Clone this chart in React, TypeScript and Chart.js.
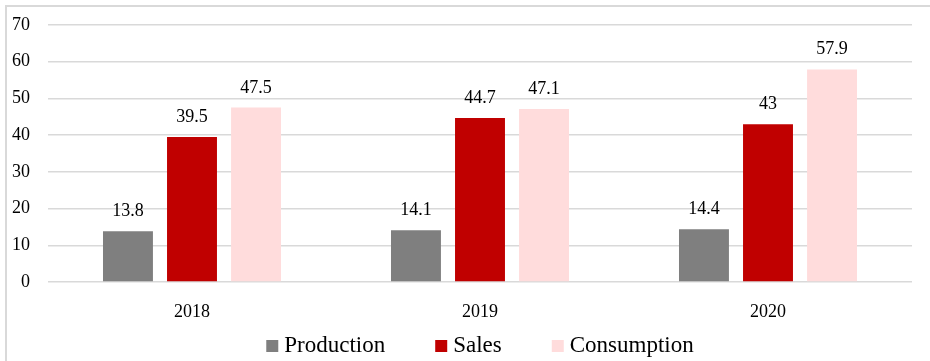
import React, { useEffect, useRef } from 'react';
import { Chart, registerables } from 'chart.js';

Chart.register(...registerables);

const categories = ['2018', '2019', '2020'];
const seriesNames = ['Production', 'Sales', 'Consumption'];
const production = [13.8, 14.1, 14.4];
const sales = [39.5, 44.7, 43];
const consumption = [47.5, 47.1, 57.9];
const seriesColors = ['#7f7f7f', '#c00000', '#ffdcdc'];
const yMin = 0;
const yMax = 70;
const yStep = 10;

const FONT = '"Liberation Serif", "Times New Roman", serif';

const valueLabels = {
  id: 'valueLabels',
  afterDatasetsDraw(chart: any) {
    const ctx = chart.ctx;
    ctx.save();
    ctx.font = `18px ${FONT}`;
    ctx.fillStyle = '#000';
    ctx.textAlign = 'center';
    ctx.textBaseline = 'alphabetic';
    chart.data.datasets.forEach((ds: any, i: number) => {
      const meta = chart.getDatasetMeta(i);
      meta.data.forEach((bar: any, j: number) => {
        ctx.fillText(String(ds.data[j]), bar.x, bar.y - 15);
      });
    });
    ctx.restore();
  },
};

const bottomLegend = {
  id: 'bottomLegend',
  afterDraw(chart: any) {
    const ctx = chart.ctx;
    ctx.save();
    ctx.font = `23px ${FONT}`;
    const box = 12;
    const gapText = 6;
    const gapItem = 50;
    const items = chart.data.datasets.map((ds: any) => ({
      label: ds.label,
      color: ds.backgroundColor,
      w: ctx.measureText(ds.label).width,
    }));
    const total =
      items.reduce((s: number, it: any) => s + box + gapText + it.w, 0) + gapItem * (items.length - 1);
    let x = (chart.chartArea.left + chart.chartArea.right) / 2 - total / 2;
    const baseline = chart.height - 9;
    ctx.textBaseline = 'alphabetic';
    ctx.textAlign = 'left';
    items.forEach((it: any) => {
      ctx.fillStyle = it.color;
      ctx.fillRect(x, baseline - box, box, box);
      ctx.fillStyle = '#000';
      ctx.fillText(it.label, x + box + gapText, baseline);
      x += box + gapText + it.w + gapItem;
    });
    ctx.restore();
  },
};

export default function App() {
  const ref = useRef<HTMLCanvasElement>(null);
  useEffect(() => {
    document.body.style.margin = '0';
    const data = [production, sales, consumption];
    const chart = new Chart(ref.current as HTMLCanvasElement, {
      type: 'bar',
      data: {
        labels: categories,
        datasets: seriesNames.map((name, i) => ({
          label: name,
          data: data[i],
          backgroundColor: seriesColors[i],
          borderWidth: 0,
          categoryPercentage: 0.667,
          barPercentage: 0.78,
        })),
      },
      options: {
        responsive: false,
        animation: false,
        devicePixelRatio: 1,
        layout: { padding: { top: 18, right: 18, bottom: 39, left: 0 } },
        plugins: { legend: { display: false }, tooltip: { enabled: false } },
        scales: {
          x: {
            grid: { display: false },
            border: { display: false },
            ticks: { font: { family: FONT, size: 18 }, color: '#000', padding: 11 },
            afterFit: (s: any) => {
              s.height = 40;
              s.paddingLeft = 0;
              s.paddingRight = 0;
            },
          },
          y: {
            min: yMin,
            max: yMax,
            ticks: { stepSize: yStep, font: { family: FONT, size: 18 }, color: '#000', padding: 18 },
            grid: { color: '#d9d9d9', lineWidth: 1.5, drawTicks: false },
            border: { display: false },
            afterFit: (s: any) => {
              s.width = 41;
              s.paddingTop = 0;
              s.paddingBottom = 0;
            },
          },
        },
      },
      plugins: [valueLabels, bottomLegend],
    } as any);
    return () => chart.destroy();
  }, []);
  return (
    <div
      style={{
        position: 'absolute',
        left: 5,
        top: 5,
        width: 925,
        height: 356,
        borderTop: '2px solid #d9d9d9',
        borderLeft: '2px solid #d9d9d9',
        boxSizing: 'border-box',
        background: '#fff',
        overflow: 'hidden',
      }}
    >
      <canvas ref={ref} width={923} height={354} style={{ display: 'block' }} />
    </div>
  );
}
